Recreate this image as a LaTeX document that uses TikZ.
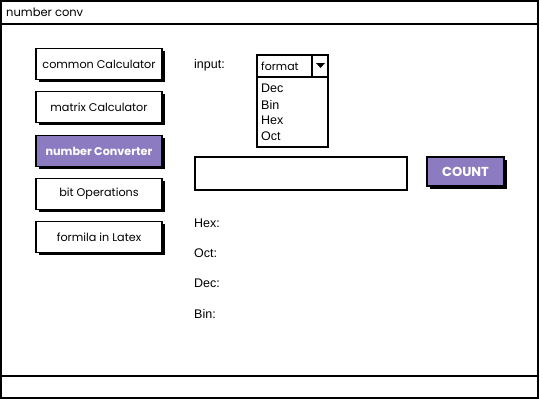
\documentclass[tikz,border=0pt]{standalone}
\usepackage{fontspec}
\setmainfont{Liberation Sans}
\newfontfamily\handfont{Poppins}
\definecolor{btnpurple}{RGB}{140,123,192}
\tikzset{
  frame/.style={draw=black, line width=1.4pt},
  btnbox/.style={draw=black, line width=1.2pt, fill=white, minimum width=126pt, minimum height=31pt, inner sep=0pt, font=\handfont\fontsize{11.2}{12}\selectfont},
  shadowbox/.style={fill=black, minimum width=126pt, minimum height=31pt, inner sep=0pt},
  lbl/.style={anchor=west, inner sep=0pt, font=\fontsize{12.5}{14}\selectfont},
  item/.style={anchor=west, inner sep=0pt, font=\fontsize{12.5}{14}\selectfont},
}
\begin{document}
\begin{tikzpicture}[x=1pt,y=-1pt]
\useasboundingbox (0,0) rectangle (540,400);
% outer frame
\draw[frame] (1,1) rectangle (538,398);
\draw[frame] (1,24) -- (538,24);
\draw[frame] (1,376) -- (538,376);
\node[anchor=west, inner sep=0pt, font=\handfont\fontsize{11.5}{12}\selectfont] (title) at (6,12.5) {number conv};
% left buttons
\foreach \n/\y/\t in {b1/64/common Calculator, b2/107/matrix Calculator, b4/194/bit Operations, b5/237/formila in Latex}{
  \node[shadowbox] at (101.5,\y+2.5) {};
  \node[btnbox] (\n) at (99,\y) {\t};
}
\node[shadowbox] at (101.5,153.5) {};
\node[btnbox, fill=btnpurple, text=white, font=\handfont\bfseries\fontsize{11.2}{12}\selectfont] (b3) at (99,151) {number Converter};
% input
\node[lbl] (input) at (194,65) {input:};
\draw[line width=1.2pt, fill=white] (257,55) rectangle (328,77);
\draw[line width=1.2pt] (312,55) -- (312,77);
\fill (316,63) -- (325,63) -- (320.5,68) -- cycle;
\node[item, font=\handfont\fontsize{11}{12}\selectfont] (fmt) at (261,66) {format};
\draw[line width=1.4pt, fill=white] (257,77) rectangle (328,147);
\node[item] (dec) at (261,88.5) {Dec};
\node[item] (bin) at (261,104.5) {Bin};
\node[item] (hex) at (261,120.5) {Hex};
\node[item] (oct) at (261,136.5) {Oct};
% text field
\draw[line width=1.4pt, fill=white] (195,157) rectangle (407,190);
% COUNT button
\fill[black] (430,160) rectangle (507,189);
\node[draw=black, line width=1.2pt, fill=btnpurple, text=white, minimum width=77pt, minimum height=29pt, inner sep=0pt, font=\handfont\bfseries\fontsize{13}{14}\selectfont] (count) at (465.5,171.5) {COUNT};
% result labels
\node[lbl] (lhex) at (194,223) {Hex:};
\node[lbl] (loct) at (194,253) {Oct:};
\node[lbl] (ldec) at (194,283) {Dec:};
\node[lbl] (lbin) at (194,314) {Bin:};
\end{tikzpicture}
\end{document}
